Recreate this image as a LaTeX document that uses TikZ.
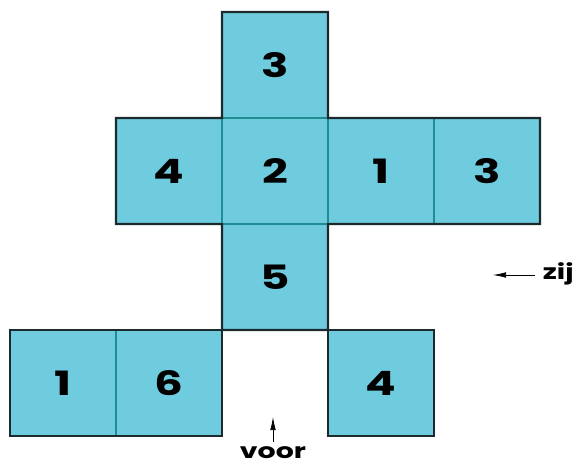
\documentclass[tikz,border=0pt]{standalone}
\usepackage{fontspec}
\newfontfamily\netfont[FakeStretch=1.35]{Poppins}
\usetikzlibrary{arrows.meta,positioning}
\definecolor{vlakkleur}{RGB}{111,204,223}
\definecolor{naad}{RGB}{32,140,148}
\definecolor{rand}{RGB}{28,42,46}

\begin{document}
\begin{tikzpicture}[
  x=0.018868cm, y=-0.018868cm,
  >={Latex[length=7pt,width=3pt]},
  vlak/.style={draw=naad, line width=0.8pt, fill=vlakkleur, minimum size=2cm, inner sep=0pt, outer sep=0pt,
    font=\netfont\bfseries\fontsize{18}{20}\selectfont},
  bijschrift/.style={inner sep=4pt, font=\netfont\bfseries\fontsize{11.3}{13}\selectfont},
  omtrek/.style={draw=rand, line width=1.1pt}
]
\useasboundingbox (0,0) rectangle (579,464);
% the net of the cube
\node[vlak] (top) at (275,65) {3};
\node[vlak] (links) at (169,171) {4};
\node[vlak] (mid) at (275,171) {2};
\node[vlak] (rechts) at (381,171) {1};
\node[vlak] (achter) at (487,171) {3};
\node[vlak] (onder) at (275,277) {5};
\node[vlak] (bodemA) at (63,383) {1};
\node[vlak] (bodemB) at (169,383) {6};
\node[vlak] (voorvlak) at (381,383) {4};
\draw[omtrek] (top.north west) -- (top.north east) -- (top.south east) -- (achter.north east)
  -- (achter.south east) -- (onder.north east) -- (onder.south east) -- (onder.south west)
  -- (onder.north west) -- (links.south west) -- (links.north west) -- (top.south west) -- cycle;
\draw[omtrek] (bodemA.north west) rectangle (bodemB.south east);
\draw[omtrek] (voorvlak.north west) rectangle (voorvlak.south east);
% viewing directions
\node[bijschrift, anchor=mid west] (zij) at (535,275) {zij};
\coordinate (zijpijl) at (493,275);
\draw[->] (zij.mid west) -- (zijpijl);
\node[bijschrift, inner sep=2pt, anchor=north] (voor) at (273,442) {voor};
\coordinate (voorpijl) at (273,417);
\draw[->] (voor.north) -- (voorpijl);
\end{tikzpicture}
\end{document}
